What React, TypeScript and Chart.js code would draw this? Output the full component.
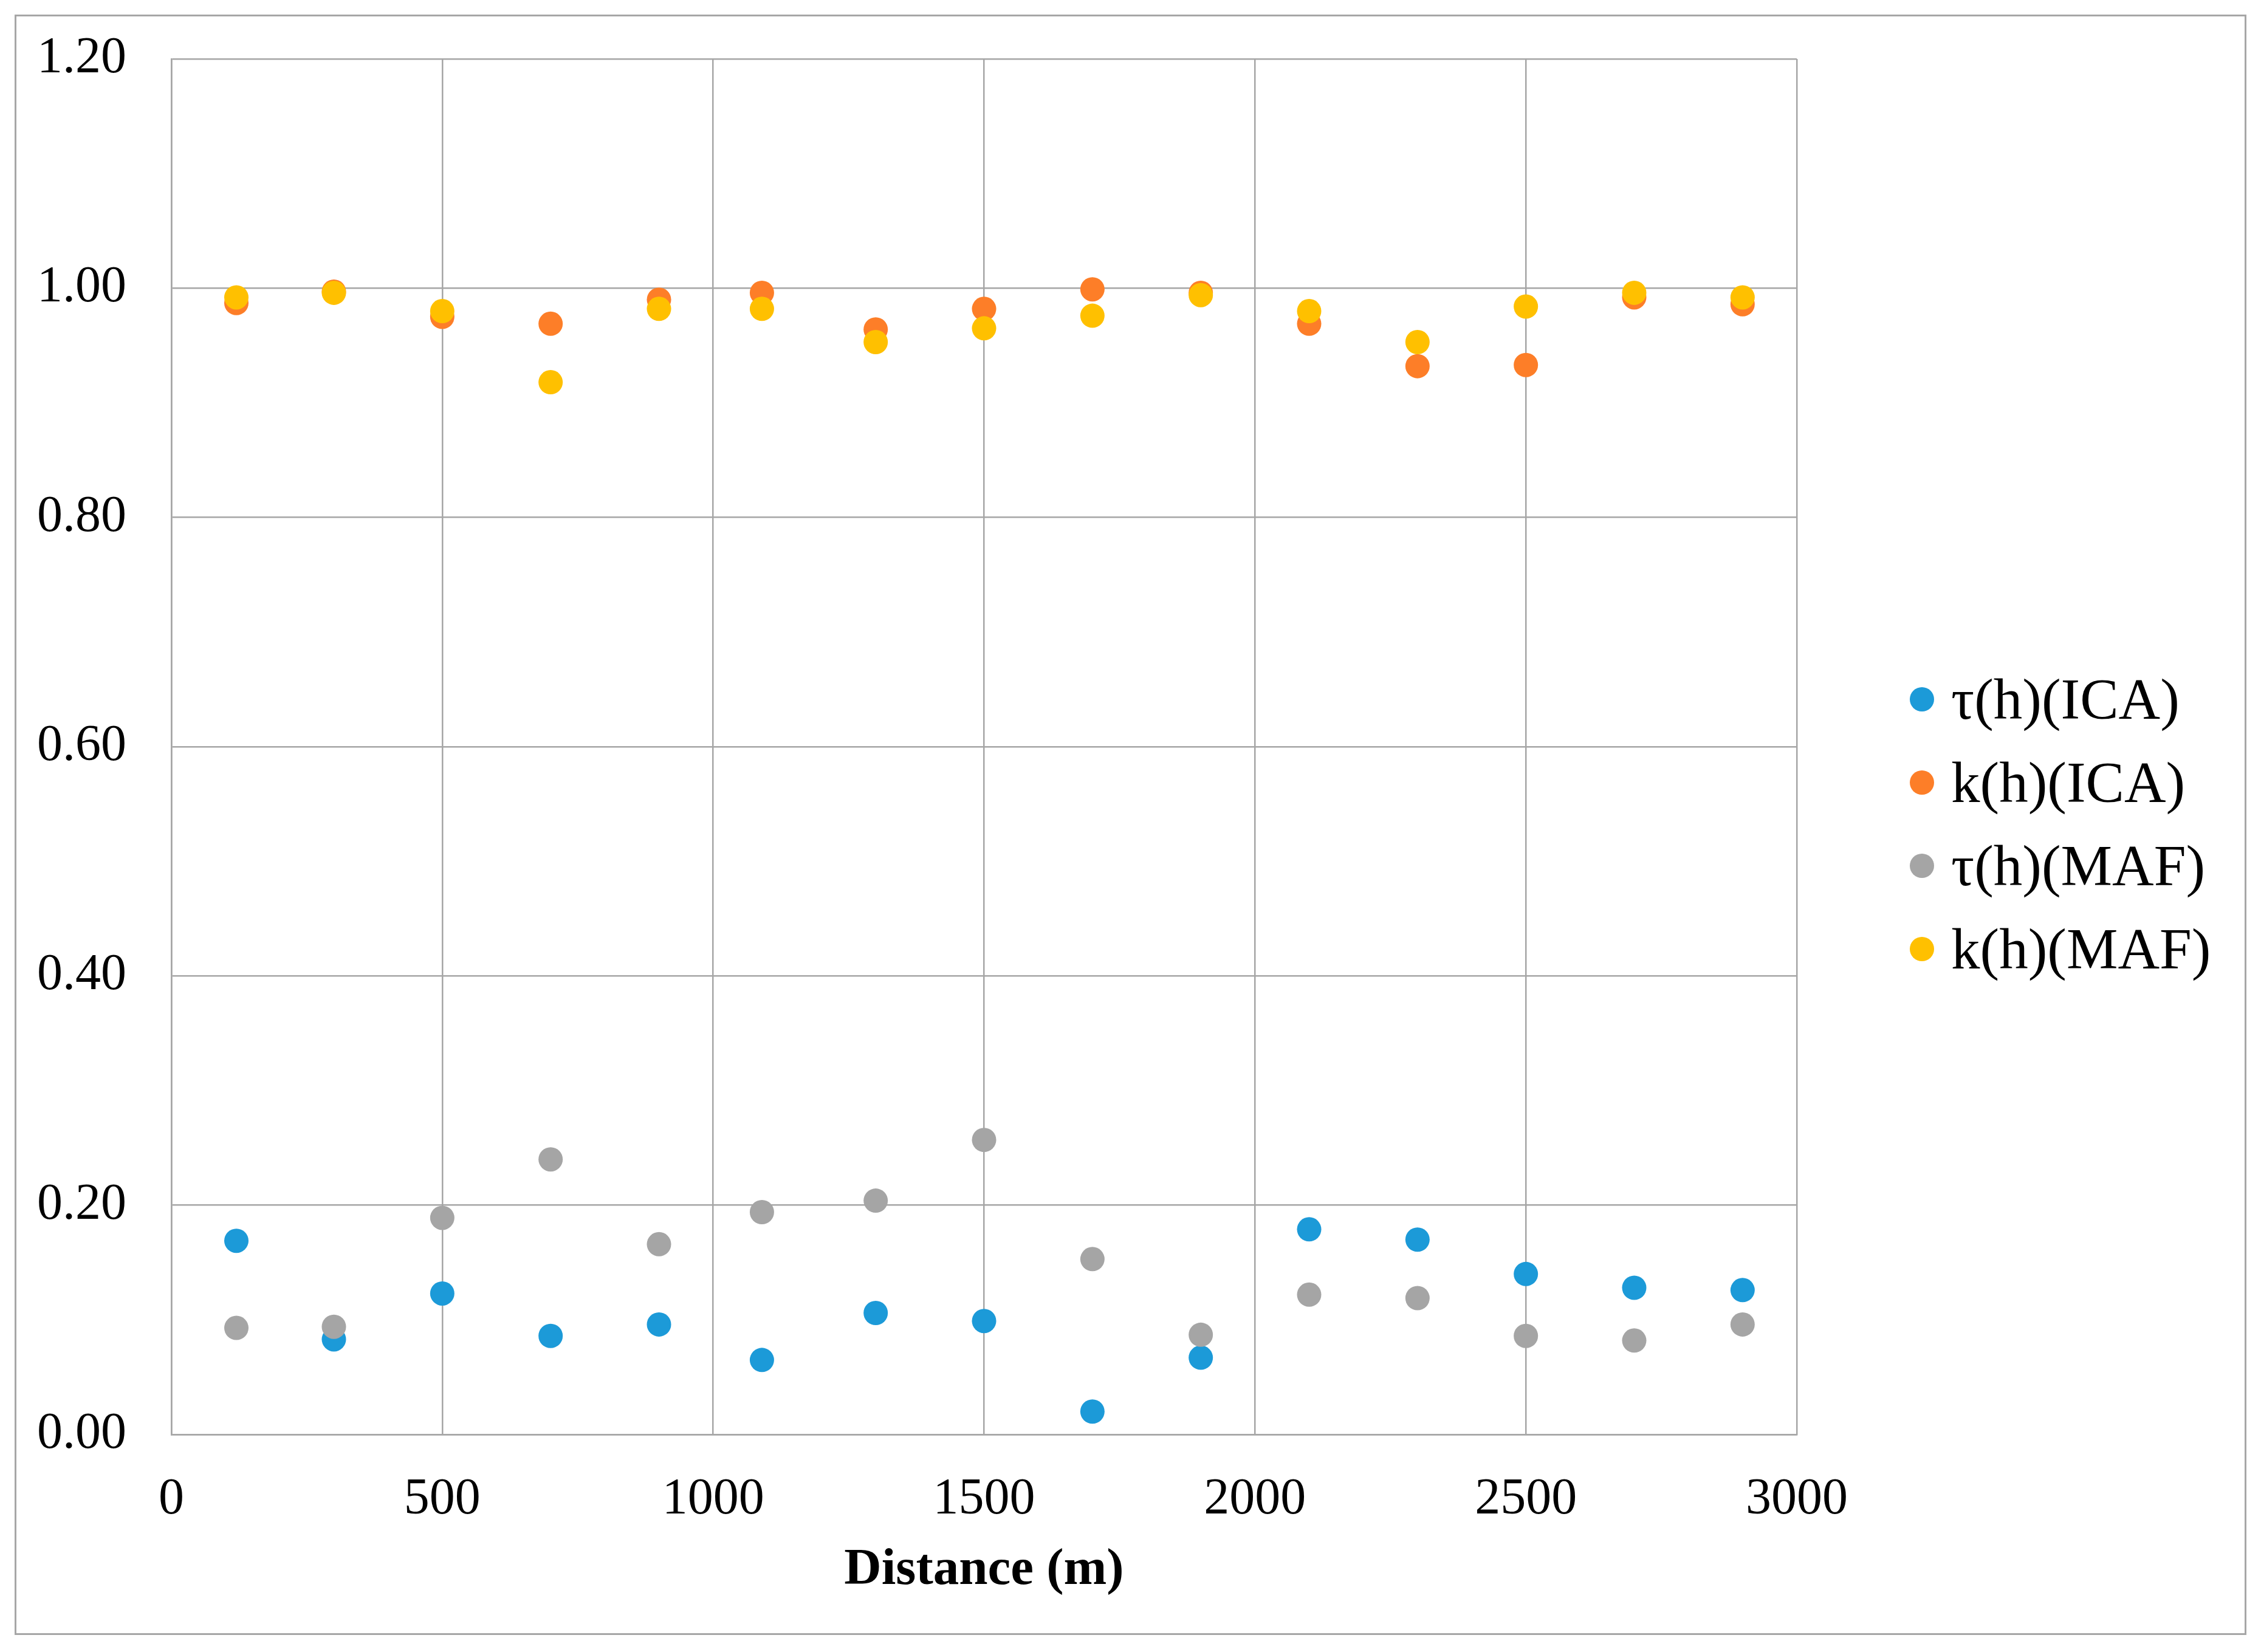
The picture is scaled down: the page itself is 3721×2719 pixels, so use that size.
import { useEffect, useRef } from 'react';
import { Chart, registerables } from 'chart.js';

Chart.register(...registerables);

// distance along the profile (m)
const distances = [120, 300, 500, 700, 900, 1090, 1300, 1500, 1700, 1900, 2100, 2300, 2500, 2700, 2900];

const tauICA = [0.169, 0.083, 0.123, 0.086, 0.096, 0.065, 0.106, 0.099, 0.02, 0.067, 0.179, 0.17, 0.14, 0.128, 0.126];
const kICA = [0.987, 0.997, 0.975, 0.969, 0.99, 0.996, 0.964, 0.982, 0.999, 0.996, 0.969, 0.932, 0.933, 0.992, 0.986];
const tauMAF = [0.093, 0.094, 0.189, 0.24, 0.166, 0.194, 0.204, 0.257, 0.153, 0.087, 0.122, 0.119, 0.086, 0.082, 0.096];
const kMAF = [0.992, 0.996, 0.98, 0.918, 0.982, 0.982, 0.953, 0.965, 0.976, 0.994, 0.98, 0.953, 0.984, 0.996, 0.992];

const seriesNames = ['τ(h)(ICA)', 'k(h)(ICA)', 'τ(h)(MAF)', 'k(h)(MAF)'];
const seriesColors = ['#1C9AD8', '#FD7E28', '#A5A5A5', '#FFC000'];

const serif = '"Liberation Serif", "Times New Roman", serif';
const gridColor = '#A6A6A6';

function toPoints(ys: number[]) {
  return distances.map((x, i) => ({ x, y: ys[i] }));
}

export default function App() {
  const canvasRef = useRef<HTMLCanvasElement>(null);
  const chartRef = useRef<Chart | null>(null);

  useEffect(() => {
    if (!canvasRef.current) return;
    if (chartRef.current) chartRef.current.destroy();

    const all = [tauICA, kICA, tauMAF, kMAF];

    chartRef.current = new Chart(canvasRef.current, {
      type: 'scatter',
      data: {
        datasets: all.map((ys, i) => ({
          label: seriesNames[i],
          data: toPoints(ys),
          backgroundColor: seriesColors[i],
          borderColor: seriesColors[i],
          borderWidth: 0,
          pointRadius: 20,
          pointHoverRadius: 20,
          showLine: false,
          // later series sit on top, like the original
          order: all.length - i,
        })),
      },
      options: {
        responsive: false,
        animation: false,
        devicePixelRatio: 1,
        layout: { padding: { left: 0, top: 97, right: 764, bottom: 0 } },
        plugins: {
          legend: { display: false },
          tooltip: { enabled: false },
        },
        scales: {
          x: {
            type: 'linear',
            min: 0,
            max: 3000,
            afterFit: (scale) => {
              scale.height = 358;
              scale.paddingLeft = 0;
              scale.paddingRight = 0;
            },
            ticks: {
              stepSize: 500,
              color: '#000',
              padding: 58,
              maxRotation: 0,
              font: { family: serif, size: 84 },
              callback: (v) => String(v),
            },
            grid: { color: gridColor, lineWidth: 2.5, drawTicks: false },
            border: { color: gridColor, width: 2.5 },
            title: {
              display: true,
              text: 'Distance (m)',
              color: '#000',
              padding: 83,
              font: { family: serif, size: 85, weight: 'bold' },
            },
          },
          y: {
            type: 'linear',
            min: 0,
            max: 1.2,
            afterFit: (scale) => {
              scale.width = 282;
              scale.paddingTop = 0;
              scale.paddingBottom = 0;
            },
            ticks: {
              stepSize: 0.2,
              color: '#000',
              padding: 74,
              font: { family: serif, size: 84 },
              callback: (v) => Number(v).toFixed(2),
            },
            grid: { color: gridColor, lineWidth: 2.5, drawTicks: false },
            border: { color: gridColor, width: 2.5 },
          },
        },
      },
    });

    return () => {
      chartRef.current?.destroy();
      chartRef.current = null;
    };
  }, []);

  return (
    <div style={{ position: 'absolute', left: 0, top: 0, width: 3721, height: 2719, background: '#fff' }}>
      <div
        style={{
          position: 'absolute',
          left: 24,
          top: 24,
          width: 3673,
          height: 2667,
          boxSizing: 'border-box',
          border: `3px solid ${gridColor}`,
        }}
      />
      <canvas ref={canvasRef} width={3721} height={2719} style={{ position: 'absolute', left: 0, top: 0 }} />
      <div style={{ position: 'absolute', left: 3143, top: 1082, fontFamily: serif, fontSize: 95, color: '#000' }}>
        {seriesNames.map((name, i) => (
          <div key={name} style={{ display: 'flex', alignItems: 'center', height: 137, whiteSpace: 'nowrap' }}>
            <span
              style={{
                display: 'inline-block',
                width: 40,
                height: 40,
                borderRadius: '50%',
                background: seriesColors[i],
                marginRight: 28,
              }}
            />
            <span>{name}</span>
          </div>
        ))}
      </div>
    </div>
  );
}
